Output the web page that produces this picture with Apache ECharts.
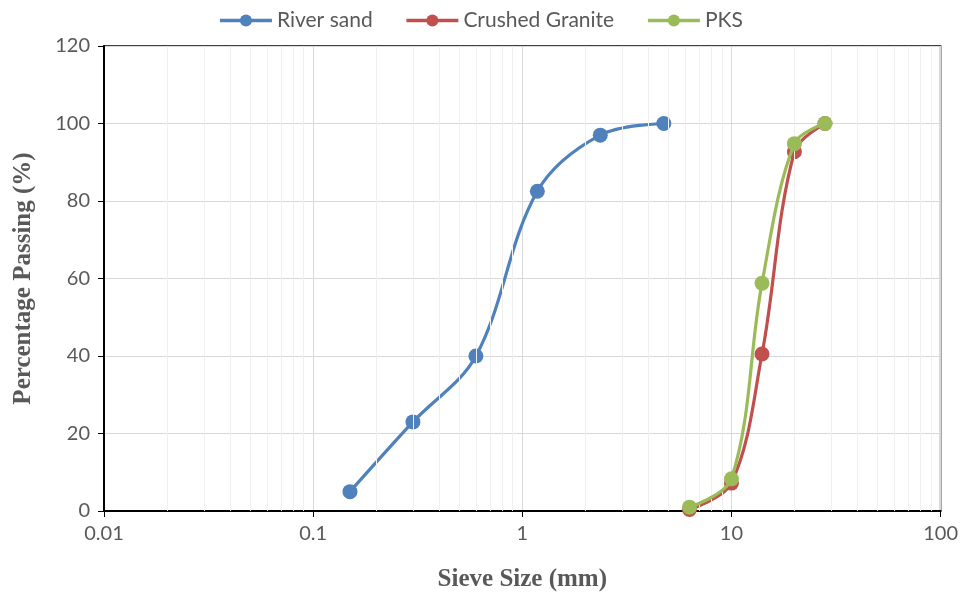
<!DOCTYPE html>
<html><head><meta charset="utf-8">
<script src="https://cdn.jsdelivr.net/npm/echarts@6/dist/echarts.min.js"></script>
<style>html,body{margin:0;padding:0;background:#fff}#c{width:961px;height:597px}</style>
</head><body><div id="c"></div>
<script>
const seriesNames = ['River sand', 'Crushed Granite', 'PKS'];
const riverSandSize = [0.15, 0.3, 0.6, 1.18, 2.36, 4.75];
const riverSandPass = [5, 23, 40, 82.5, 97, 100];
const graniteSize = [6.3, 10, 14, 20, 28];
const granitePass = [0.4, 7.2, 40.5, 92.7, 100];
const pksSize = [6.3, 10, 14, 20, 28];
const pksPass = [1, 8.3, 58.8, 94.8, 100];
const xTicks = [0.01, 0.1, 1, 10, 100];
const yTicks = [0, 20, 40, 60, 80, 100, 120];
const colors = ['#4F81BD', '#C0504D', '#9BBB59'];

const minorX = [];
for (let d = 0; d < xTicks.length - 1; d++) {
  for (let m = 2; m <= 9; m++) minorX.push(+(xTicks[d] * m).toPrecision(3));
}
const pairs = (xs, ys) => xs.map((x, i) => [x, ys[i]]);
const labelFont = {color: '#595959', fontSize: 20, fontFamily: 'Lato'};
const titleFont = {color: '#595959', fontSize: 25, fontWeight: 'bold', fontFamily: 'Liberation Serif'};

const chart = echarts.init(document.getElementById('c'));
const mk = (name, xs, ys, i) => ({
  name, type: 'line', data: pairs(xs, ys), smooth: 0.35,
  symbol: 'circle', symbolSize: 15, z: 3 + i,
  itemStyle: {color: colors[i]}, lineStyle: {color: colors[i], width: 3.2}
});
chart.setOption({
  animation: false,
  legend: {
    data: seriesNames, top: 5, left: 'center', itemWidth: 52, itemHeight: 15, itemGap: 32,
    lineStyle: {width: 3.5},
    textStyle: {color: '#595959', fontSize: 21, fontFamily: 'Lato'}
  },
  grid: {left: 104, right: 18, top: 46, bottom: 86, show: true, borderColor: '#000', borderWidth: 1.5},
  xAxis: {
    type: 'log', logBase: 10, min: xTicks[0], max: xTicks[xTicks.length - 1],
    name: 'Sieve Size (mm)', nameLocation: 'middle', nameGap: 56, nameTextStyle: titleFont,
    axisLine: {lineStyle: {color: '#000', width: 2}},
    axisTick: {show: true, length: 6, lineStyle: {color: '#000'}},
    axisLabel: Object.assign({margin: 13, formatter: v => String(+v.toPrecision(3))}, labelFont),
    splitLine: {show: true, lineStyle: {color: '#d9d9d9', width: 1}}
  },
  yAxis: {
    type: 'value', min: yTicks[0], max: yTicks[yTicks.length - 1], interval: 20,
    name: 'Percentage Passing (%)', nameLocation: 'middle', nameGap: 68, nameTextStyle: titleFont,
    axisLine: {show: true, lineStyle: {color: '#000', width: 2}},
    axisTick: {show: true, length: 6, lineStyle: {color: '#000'}},
    axisLabel: Object.assign({margin: 14}, labelFont),
    splitLine: {show: true, lineStyle: {color: '#d9d9d9', width: 1}}
  },
  series: [
    {
      name: 'minor', type: 'line', data: [], silent: true, z: 1,
      markLine: {
        silent: true, symbol: 'none', label: {show: false}, animation: false,
        lineStyle: {color: '#efefef', width: 1, type: 'solid'},
        data: minorX.map(v => ({xAxis: v}))
      }
    },
    mk(seriesNames[0], riverSandSize, riverSandPass, 0),
    mk(seriesNames[1], graniteSize, granitePass, 1),
    mk(seriesNames[2], pksSize, pksPass, 2)
  ]
});
</script></body></html>
